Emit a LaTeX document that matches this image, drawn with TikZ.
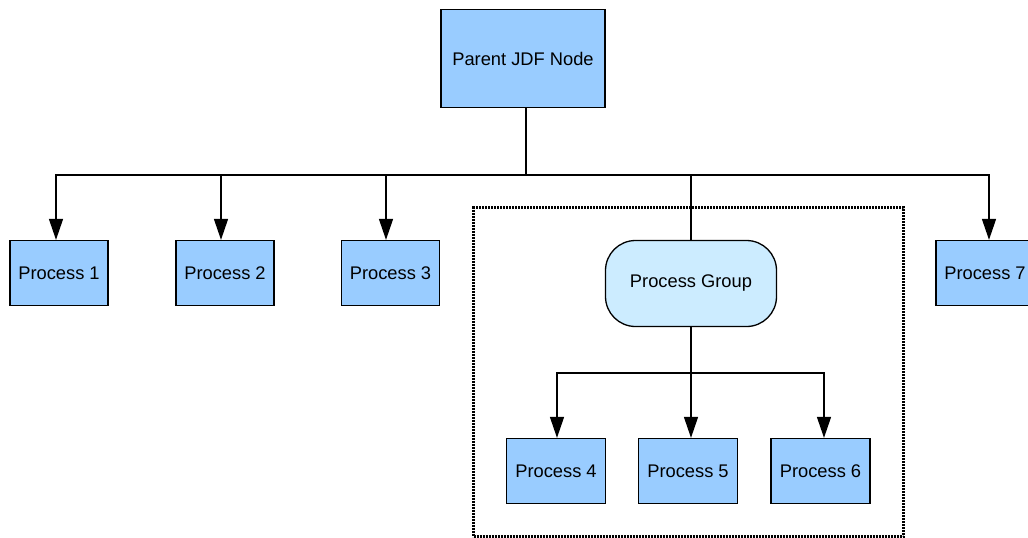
\documentclass[tikz,border=0pt]{standalone}
\usepackage{fontspec}
\setmainfont{Liberation Sans}
\usetikzlibrary{arrows.meta}
\definecolor{procblue}{HTML}{99CCFF}
\definecolor{groupblue}{HTML}{CCECFF}
\begin{document}
\begin{tikzpicture}[x=1pt,y=-1pt,
  boxtext/.style={font=\fontsize{18.3}{22}\selectfont},
  proc/.style={boxtext, draw=black, line width=1.3pt, fill=procblue,
    minimum width=98pt, minimum height=65pt, inner sep=0pt},
  groupnode/.style={boxtext, draw=black, line width=1.3pt, fill=groupblue,
    rounded corners=30pt, minimum width=171pt, minimum height=86pt, inner sep=0pt},
  frame/.style={draw=black, line width=2.4pt, dash pattern=on 2pt off 1pt,
    minimum width=430pt, minimum height=329pt, inner sep=0pt},
  link/.style={draw=black, line width=1.5pt},
  arr/.style={link, -{Triangle[length=21pt,width=14pt]}}]
\useasboundingbox (0,0) rectangle (1028,538);
\clip (0,0) rectangle (1028,538);

% group frame
\node[frame] (grp) at (688.5,372) {};

% nodes
\node[proc, minimum width=164pt, minimum height=98pt] (parent) at (523,58.5) {Parent JDF Node};
\node[proc] (p1) at (59,273) {Process 1};
\node[proc] (p2) at (225,273) {Process 2};
\node[proc] (p3) at (390.5,273) {Process 3};
\node[proc] (p7) at (985,273) {Process 7};
\node[groupnode] (pg) at (691,283.5) {Process Group};
\node[proc, minimum width=99pt] (p4) at (556,471) {Process 4};
\node[proc, minimum width=99pt] (p5) at (688,471) {Process 5};
\node[proc, minimum width=99pt] (p6) at (820.5,471) {Process 6};

% top-level connectors
\coordinate (j0) at (526,175);
\draw[link] ([xshift=3pt]parent.south) -- (j0);
\draw[arr] (j0) -| ([xshift=-3pt]p1.north);
\draw[arr] (j0) -| ([xshift=-4pt]p2.north);
\draw[arr] (j0) -| ([xshift=-4.5pt]p3.north);
\draw[link] (j0) -| (pg.north);
\draw[arr] (j0) -| ([xshift=4pt]p7.north);

% group connectors
\coordinate (j1) at (691,373);
\draw[link] (pg.south) -- (j1);
\draw[arr] (j1) -| ([xshift=1pt]p4.north);
\draw[arr] (j1) -| ([xshift=3pt]p5.north);
\draw[arr] (j1) -| ([xshift=3.5pt]p6.north);
\end{tikzpicture}
\end{document}
